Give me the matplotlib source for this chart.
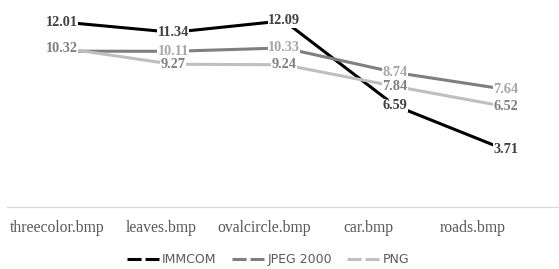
import matplotlib
matplotlib.use('Agg')
import matplotlib.pyplot as plt
from matplotlib.lines import Line2D
from matplotlib.transforms import ScaledTranslation

# 数据
categories = ['threecolor.bmp', 'leaves.bmp', 'ovalcircle.bmp', 'car.bmp', 'roads.bmp']
immcom = [12.01, 11.34, 12.09, 6.59, 3.71]
jpeg2000 = [10.12, 10.11, 10.33, 8.74, 7.64]
png = [10.32, 9.27, 9.24, 7.84, 6.52]

series = [
    ('IMMCOM', immcom, '#000000', '#404040'),
    ('JPEG 2000', jpeg2000, '#7f7f7f', '#a6a6a6'),
    ('PNG', png, '#bfbfbf', '#7f7f7f'),
]

fig = plt.figure(figsize=(5.59, 2.69), dpi=100)
fig.patch.set_facecolor('white')
ax = fig.add_axes([6.5 / 559, 1 - 207.2 / 269, 555 / 559, 207.2 / 269])

x = list(range(len(categories)))
for name, vals, color, lab_color in series:
    ax.plot(x, vals, color=color, lw=2.2, solid_capstyle='butt', label=name, zorder=2)

# 数据标签（白底，居中于数据点）
for name, vals, color, lab_color in series:
    for xi, v in zip(x, vals):
        ax.text(xi, v, f'{v:.2f}', ha='center', va='center',
                family='Liberation Serif', fontsize=10.3, fontweight='bold',
                color=lab_color, zorder=3,
                bbox=dict(boxstyle='square,pad=0.02', fc='white', ec='none'))

ax.set_xlim(-0.5, 4.5)
ax.set_ylim(0, 207.2 / 15.42)
ax.set_yticks([])
ax.set_xticks(x)
ax.set_xticklabels(categories, family='Liberation Serif', fontsize=11.3, color='#595959')
ax.tick_params(axis='x', length=0, pad=9.5)
for i, lab in enumerate(ax.get_xticklabels()):
    lab.set_transform(lab.get_transform() +
                      ScaledTranslation((-5 - 7.2 * i) / 100, 0, fig.dpi_scale_trans))

for s in ['top', 'right', 'left']:
    ax.spines[s].set_visible(False)
ax.spines['bottom'].set_color('#d9d9d9')
ax.spines['bottom'].set_linewidth(0.9)

# 图例
leg_handles = [Line2D([0], [0], color=c, lw=2.2, dashes=(4.6, 1.3), dash_capstyle='butt')
               for _, _, c, _ in series]
leg = fig.legend(leg_handles, [s[0] for s in series], loc='center',
                 bbox_to_anchor=(268 / 559, 9.5 / 269), ncol=3, frameon=False,
                 prop={'family': 'DejaVu Sans', 'size': 9},
                 handlelength=2.56, handletextpad=0.25, columnspacing=1.25,
                 borderpad=0, borderaxespad=0)
for t in leg.get_texts():
    t.set_color('#595959')

fig.savefig('out.png', dpi=100, facecolor='white')
